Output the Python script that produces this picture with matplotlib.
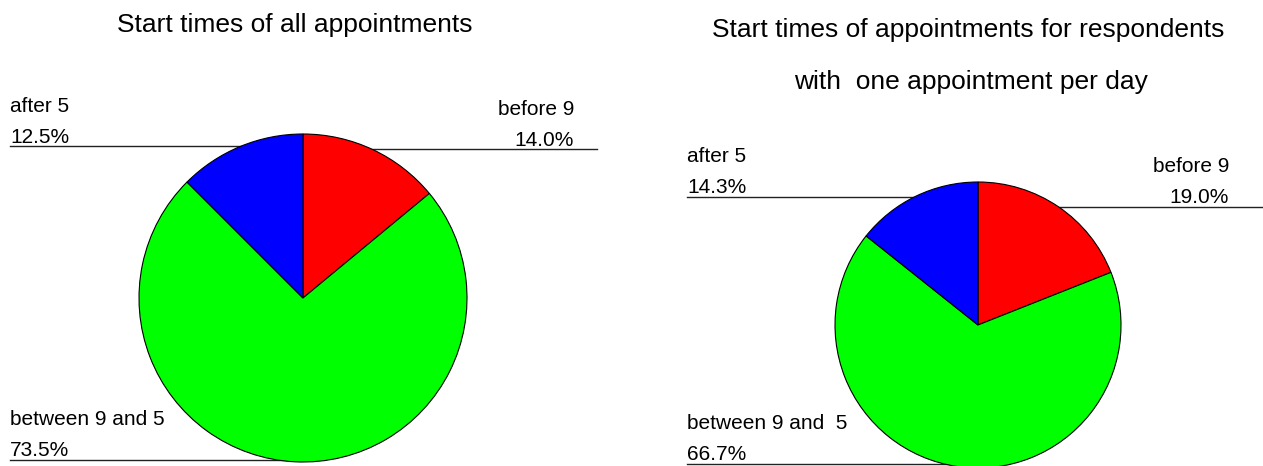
import matplotlib.pyplot as plt

plt.rcParams['font.family'] = ['Liberation Sans', 'DejaVu Sans']

# Data (percent of appointments)
slot_names = ['before 9', 'between 9 and 5', 'after 5']
all_pct = [14.0, 73.5, 12.5]
single_pct = [19.0, 66.7, 14.3]
slot_colors = ['#ff0000', '#00ff00', '#0000ff']

title_all = 'Start times of all appointments'
title_single = 'Start times of appointments for respondents\n\nwith  one appointment per day'

W, H = 1263, 466
fig = plt.figure(figsize=(W / 100, H / 100), dpi=100)
ax = fig.add_axes([0, 0, 1, 1])

def draw_pie(values, center, radius):
    ax.pie(values, colors=slot_colors, startangle=90, counterclock=False,
           center=center, radius=radius, frame=True,
           wedgeprops=dict(edgecolor='black', linewidth=0.8, zorder=3))

def label(x, y, lab, pct, line_y, line_x0, line_x1, ha='left'):
    # y values are pixel rows from the top of the picture
    ax.text(x, H - y, lab, ha=ha, va='baseline', fontsize=15)
    ax.text(x, H - y - 31, pct, ha=ha, va='baseline', fontsize=15)
    ax.plot([line_x0, line_x1], [H - line_y, H - line_y], color='#222222',
            linewidth=1.0, zorder=1)

# left pie
draw_pie(all_pct, (303, H - 298), 164)
label(10, 112, slot_names[2], f'{all_pct[2]:.1f}%', 146, 10, 303)
label(574, 115, slot_names[0], f'{all_pct[0]:.1f}%', 149, 303, 597, ha='right')
label(10, 425, slot_names[1], f'{all_pct[1]:.1f}%', 460, 10, 303)
ax.text(295, H - 32, title_all, ha='center', va='baseline', fontsize=19)

# right pie
draw_pie(single_pct, (978, H - 325), 143)
label(687, 162, slot_names[2], f'{single_pct[2]:.1f}%', 197, 687, 978)
label(1229, 172, slot_names[0], f'{single_pct[0]:.1f}%', 207, 978, 1263, ha='right')
label(687, 429, 'between 9 and  5', f'{single_pct[1]:.1f}%', 464, 687, 978)
ax.text(968, H - 37, title_single.split('\n')[0], ha='center', va='baseline', fontsize=19)
ax.text(971, H - 89, title_single.split('\n')[-1], ha='center', va='baseline', fontsize=19)

ax.set_xlim(0, W)
ax.set_ylim(0, H)
ax.set_aspect('auto')
ax.axis('off')

fig.savefig('out.png', dpi=100)
